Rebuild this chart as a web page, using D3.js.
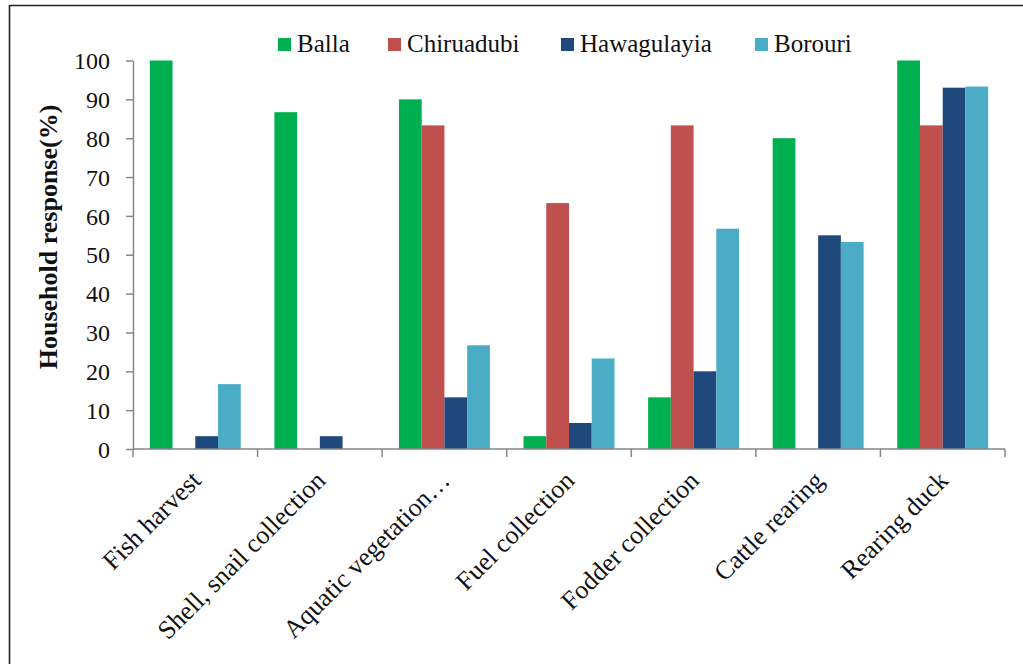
<!DOCTYPE html>
<html>
<head>
<meta charset="UTF-8">
<title>Household response</title>
<script src="https://d3js.org/d3.v7.min.js"></script>
<style>
    body {
        margin: 0;
        background: #fff;
    }
    svg text {
        font-family: "Liberation Serif", "Times New Roman", "DejaVu Serif", serif !important;
    }
</style>
</head>
<body>
<script>
    // activities and the share of households in each village
    const activities = ["Fish harvest", "Shell, snail collection", "Aquatic vegetation\u2026",
        "Fuel collection", "Fodder collection", "Cattle rearing", "Rearing duck"];
    const villages = ["Balla", "Chiruadubi", "Hawagulayia", "Borouri"];
    const balla = [100, 86.7, 90, 3.3, 13.3, 80, 100];
    const chiruadubi = [0, 0, 83.3, 63.3, 83.3, 0, 83.3];
    const hawagulayia = [3.3, 3.3, 13.3, 6.7, 20, 55, 93];
    const borouri = [16.7, 0, 26.7, 23.3, 56.7, 53.3, 93.3];
    const yTicks = [0, 10, 20, 30, 40, 50, 60, 70, 80, 90, 100];
    const colors = ["#00b050", "#c0504d", "#1f497d", "#4bacc6"];

    const series = [balla, chiruadubi, hawagulayia, borouri];
    const width = 1023, height = 664;
    const plot = {left: 133, right: 1005, top: 60.5, bottom: 449};

    const svg = d3.select("body").append("svg")
        .attr("width", width).attr("height", height);

    // outer frame, only top and left are in view
    svg.append("path")
        .attr("d", `M9.5,${height + 5}V5.5H${width + 5}`)
        .attr("fill", "none").attr("stroke", "#222").attr("stroke-width", 1.6);

    const x = d3.scaleBand().domain(activities).range([plot.left, plot.right]).padding(0);
    const xs = d3.scaleBand().domain(villages).range([0, x.bandwidth()]).paddingOuter(0.74).paddingInner(0);
    const y = d3.scaleLinear().domain([0, 100]).range([plot.bottom, plot.top]);

    const groups = svg.append("g").selectAll("g")
        .data(activities)
        .join("g")
        .attr("transform", d => `translate(${x(d)},0)`);

    groups.selectAll("rect")
        .data((d, i) => villages.map((v, j) => ({v, value: series[j][i], c: colors[j]})))
        .join("rect")
        .attr("x", d => xs(d.v))
        .attr("width", xs.bandwidth())
        .attr("y", d => y(d.value))
        .attr("height", d => y(0) - y(d.value))
        .attr("fill", d => d.c);

    // y axis
    const yAxis = svg.append("g")
        .attr("transform", `translate(${plot.left},0)`)
        .call(d3.axisLeft(y).tickValues(yTicks).tickSize(7).tickPadding(16).tickSizeOuter(0));
    yAxis.attr("font-family", null).attr("font-size", 24);
    yAxis.select(".domain").attr("stroke", "#868686").attr("stroke-width", 1.5);
    yAxis.selectAll(".tick line").attr("stroke", "#868686").attr("stroke-width", 1.5);
    yAxis.selectAll(".tick text").attr("fill", "#111").attr("dy", "0.34em");

    // x axis with ticks between categories
    const xAxisG = svg.append("g").attr("transform", `translate(0,${plot.bottom})`);
    xAxisG.append("line")
        .attr("x1", plot.left).attr("x2", plot.right)
        .attr("stroke", "#868686").attr("stroke-width", 1.5);
    const edges = activities.map(d => x(d)).concat([plot.right]);
    xAxisG.selectAll("line.sep")
        .data(edges)
        .join("line")
        .attr("class", "sep")
        .attr("x1", d => d).attr("x2", d => d)
        .attr("y1", 0).attr("y2", 8)
        .attr("stroke", "#868686").attr("stroke-width", 1.5);

    xAxisG.selectAll("text")
        .data(activities)
        .join("text")
        .attr("transform", d => `translate(${x(d) + x.bandwidth() / 2 + 7},${33}) rotate(-45)`)
        .attr("text-anchor", "end")
        .attr("font-size", 26)
        .attr("fill", "#111")
        .text(d => d);

    // y title
    svg.append("text")
        .attr("transform", `translate(57,237) rotate(-90)`)
        .attr("text-anchor", "middle")
        .attr("font-size", 26)
        .attr("font-weight", "bold")
        .attr("fill", "#111")
        .text("Household  response(%)");

    // legend
    const legendX = [278, 388, 561, 755];
    const legend = svg.append("g").selectAll("g")
        .data(villages)
        .join("g")
        .attr("transform", (d, i) => `translate(${legendX[i]},38)`);
    legend.append("rect")
        .attr("width", 13).attr("height", 13)
        .attr("fill", (d, i) => colors[i]);
    legend.append("text")
        .attr("x", 19).attr("y", 14)
        .attr("font-size", 25)
        .attr("fill", "#111")
        .text(d => d);
</script>
</body>
</html>
